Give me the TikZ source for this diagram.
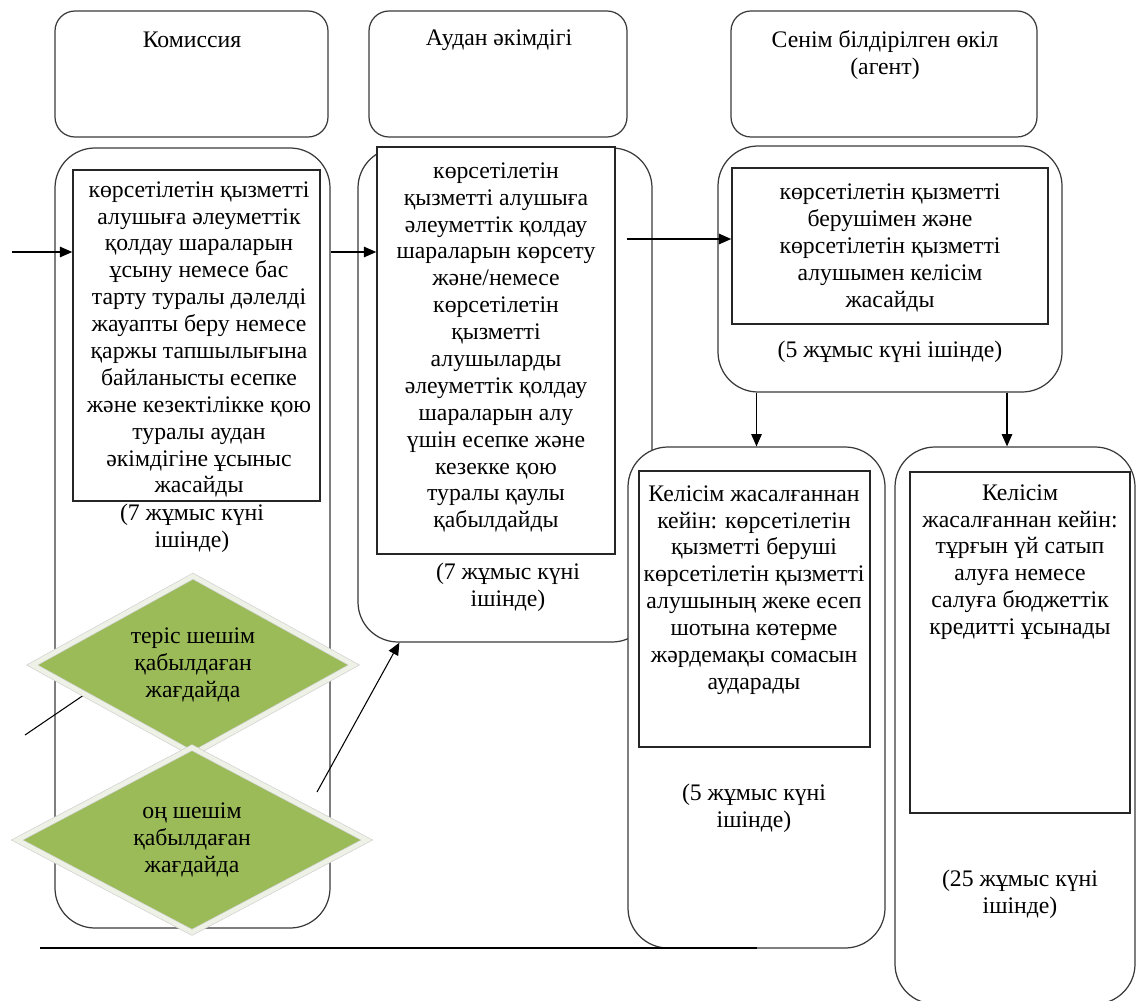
\documentclass[tikz,border=0pt]{standalone}
\usepackage{fontspec}
\setmainfont{Liberation Serif}
\usetikzlibrary{shapes.geometric}
\usetikzlibrary{arrows.meta}
\usetikzlibrary{calc}
\definecolor{DecisionGreen}{HTML}{9BBB59}
\definecolor{DecisionRim}{HTML}{EEF2E6}
\definecolor{LaneGray}{HTML}{3A3A3A}
\newcommand{\px}{0.02cm}
\newcommand{\boxfont}{\fontsize{13.5pt}{15.3pt}\selectfont}
\tikzset{
  box size/.style n args={2}{minimum width=#1*\px, minimum height=#2*\px},
  headbox/.style={draw=LaneGray, line width=0.7pt, rounded corners=0.4cm, inner sep=0pt},
  lanebox/.style={draw=LaneGray, line width=0.7pt, rounded corners=0.8cm, fill=white, inner sep=0pt},
  stepbox/.style={draw=black!85, line width=0.9pt, fill=white, inner sep=0pt},
  txt/.style={align=center, inner sep=0pt},
  decision/.style={diamond, aspect=1.8, fill=DecisionGreen, draw=black!18,
    double=DecisionRim, double distance=2.6pt, line width=0.4pt,
    inner sep=0pt, align=center},
  arr/.style={-{Triangle[length=7pt,width=6pt]}, line width=0.6pt},
}
\begin{document}
\begin{tikzpicture}[x=\px, y=-\px, font=\boxfont]
  \useasboundingbox (0,0) rectangle (1138,1000);

  % lane headers
  \node[headbox, box size={273}{126}] (hkom) at (191.5,74) {};
  \node[txt] (hkomt) at (192,40) {Комиссия};
  \node[headbox, box size={258}{126}] (hakim) at (498,74) {};
  \node[txt] (hakimt) at (499,40) {Аудан әкімдігі};
  \node[headbox, box size={306}{126}] (hagent) at (884,74) {};
  \node[txt] (hagentt) at (885,55) {Сенім білдірілген өкіл\\(агент)};

  % commission
  \node[lanebox, box size={275}{780}] (lane1) at (192.5,538) {};
  \node[stepbox, box size={247}{331}] (r1) at (196.5,335.5) {};
  \node[txt] (t1) at (199,339.5) {көрсетілетін қызметті\\алушыға әлеуметтік\\қолдау шараларын\\ұсыну немесе бас\\тарту туралы дәлелді\\жауапты беру немесе\\қаржы тапшылығына\\байланысты есепке\\және кезектілікке қою\\туралы аудан\\әкімдігіне ұсыныс\\жасайды};
  \node[txt] (d1) at (192,528) {(7 жұмыс күні\\ішінде)};

  % district akimat
  \node[lanebox, box size={294}{494}] (lane2) at (505,395) {};
  \node[stepbox, box size={238}{407}] (r2) at (496,350.5) {};
  \node[txt] (t2) at (496,347.5) {көрсетілетін\\қызметті алушыға\\әлеуметтік қолдау\\шараларын көрсету\\және/немесе\\көрсетілетін\\қызметті\\алушыларды\\әлеуметтік қолдау\\шараларын алу\\үшін есепке және\\кезекке қою\\туралы қаулы\\қабылдайды};
  \node[txt] (d2) at (508,587) {(7 жұмыс күні\\ішінде)};

  % agent
  \node[lanebox, box size={344}{246}] (lane3) at (890,269) {};
  \node[stepbox, box size={316}{156}] (r3) at (890,246) {};
  \node[txt] (t3) at (890,248) {көрсетілетін қызметті\\берушімен және\\көрсетілетін қызметті\\алушымен келісім\\жасайды};
  \node[txt] (d3) at (890,352) {(5 жұмыс күні ішінде)};

  \node[lanebox, box size={257}{501}] (b4) at (756.5,697.5) {};
  \node[stepbox, box size={231}{276}] (r4) at (754.5,609) {};
  \node[txt] (t4) at (754,590) {Келісім жасалғаннан\\кейін: көрсетілетін\\қызметті беруші\\көрсетілетін қызметті\\алушының жеке есеп\\шотына көтерме\\жәрдемақы сомасын\\аударады};
  \node[txt] (d4) at (754,808) {(5 жұмыс күні\\ішінде)};

  \node[lanebox, box size={240}{557}] (b5) at (1015,725.5) {};
  \node[stepbox, box size={220}{341}] (r5) at (1020,642.5) {};
  \node[txt] (t5) at (1020,562) {Келісім\\жасалғаннан кейін:\\тұрғын үй сатып\\алуға немесе\\салуға бюджеттік\\кредитті ұсынады};
  \node[txt] (d5) at (1020,894) {(25 жұмыс күні\\ішінде)};

  % flow
  \coordinate (src) at (12,252);
  \draw[arr] (src) -- (src -| r1.west);
  \draw[arr] (src -| lane1.east) -- (src -| r2.west);
  \coordinate (agree) at (627,239);
  \draw[arr] (agree) -- (agree -| r3.west);
  \draw[arr] (lane3.south -| b4) -- (b4.north);
  \draw[arr] ([xshift=-0.16cm]lane3.south -| b5) -- ([xshift=-0.16cm]b5.north);
  \coordinate (base) at (40,948);
  \draw[line width=0.9pt] (base) -- (base -| b4.south);

  % decisions
  \coordinate (negfrom) at (25,735);
  \coordinate (negto) at (100,684);
  \draw[line width=0.6pt] (negfrom) -- (negto);
  \coordinate (posfrom) at (317,792);
  \draw[arr] (posfrom) -- ([xshift=0.84cm]lane2.south west);
  \node[decision, box size={322}{178}] (neg) at (193,665) {теріс шешім\\қабылдаған\\жағдайда};
  \node[decision, box size={350}{185}] (pos) at (192,840) {оң шешім\\қабылдаған\\жағдайда};
\end{tikzpicture}
\end{document}
